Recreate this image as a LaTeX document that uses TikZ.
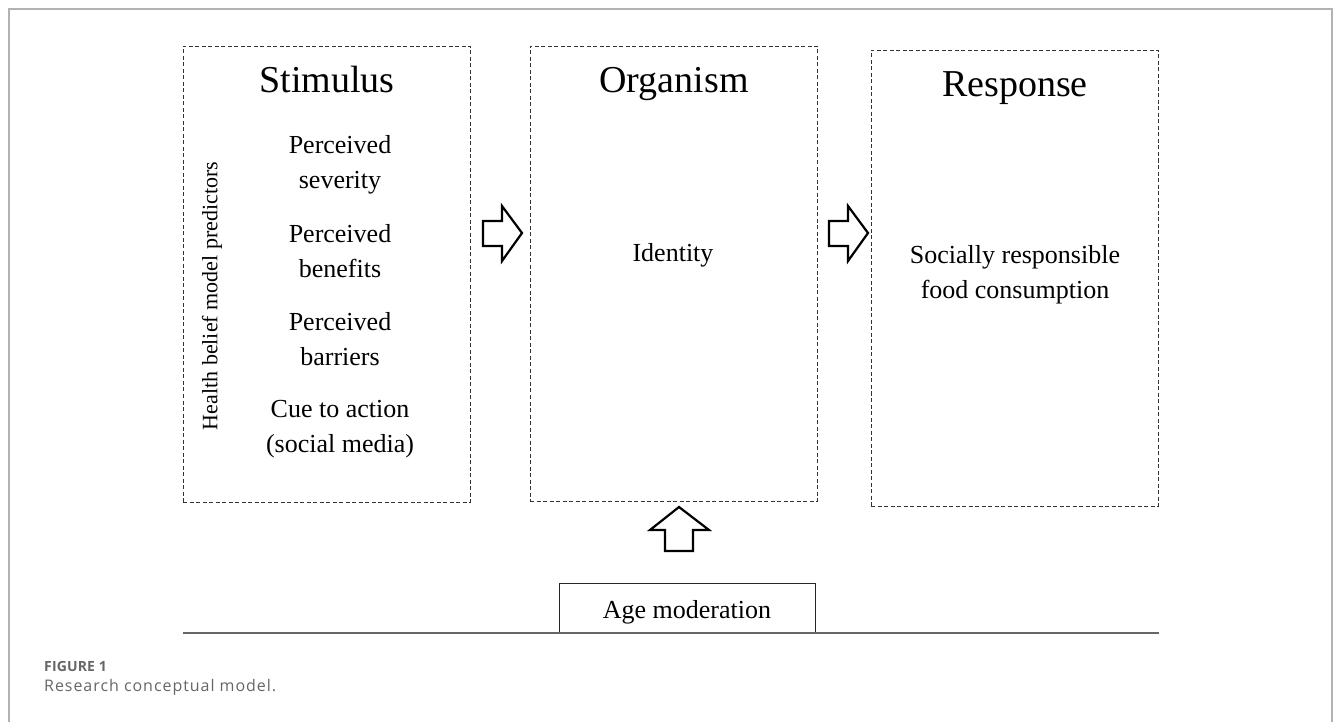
\documentclass[tikz,border=0pt]{standalone}
\usepackage{fontspec}
\setmainfont{Liberation Serif}
\newfontfamily\capfont{Open Sans}
\usepackage{tikz}
\usetikzlibrary{positioning,calc}

\begin{document}
\begin{tikzpicture}[x=1pt,y=-1pt,
  dashbox/.style={draw=black!80, dash pattern=on 4pt off 2.5pt, line width=0.9pt,
    minimum width=287pt, inner sep=0pt},
  title/.style={anchor=base, font=\fontsize{38}{42}\selectfont},
  item/.style={anchor=base, align=center, font=\fontsize{26}{35}\selectfont},
  bigarrow/.style={draw=black, line width=2.2pt, miter limit=10, fill=white},
  agebox/.style={draw=black!85, line width=1pt, minimum width=256pt, minimum height=50pt,
    text height=26pt, text depth=6pt, inner sep=0pt, font=\fontsize{26}{30}\selectfont}]
\useasboundingbox (0,0) rectangle (1333,722);
% frame
\draw[black!30, line width=1.5pt] (9,722) -- (9,9) -- (1332,9) -- (1332,722);

% the three S-O-R boxes
\node[dashbox, minimum height=456pt] (stim) at (326.5,274) {};
\node[dashbox, minimum height=455pt] (org) at (673.5,273.5) {};
\node[dashbox, minimum height=456pt] (resp) at (1014.5,278) {};

\node[title] (stimt) at (327,93) {Stimulus};
\node[title] (orgt) at (674,93) {Organism};
\node[title] (respt) at (1015,97) {Response};

% predictors (base = last line)
\node[rotate=90, font=\fontsize{22}{26}\selectfont] (hbm) at (212,296) {Health belief model predictors};
\foreach \t/\y [count=\i] in {Perceived\\severity/189, Perceived\\benefits/277,
    Perceived\\barriers/365, Cue to action\\(social media)/452} {
  \node[item] (pred\i) at (340,\y) {\t};
}

\node[item] (ident) at (673,261) {Identity};
\node[item] (src) at (1015,298) {Socially responsible\\food consumption};

% block arrows
\foreach \x in {483,829} {
  \draw[bigarrow] (\x,221) -- ++(19,0) -- ++(0,-15) -- ++(20,27) -- ++(-20,28)
    -- ++(0,-15) -- ++(-19,0) -- cycle;
}
\draw[bigarrow] (665,551) -- (665,530) -- (650,530) -- (679,507) -- (709,530)
  -- (693,530) -- (693,551) -- cycle;

\node[agebox] (age) at (687,608) {Age moderation};
\draw[black!60, line width=1.5pt] (183,633) -- (1159,633);

% caption
\node[anchor=base west, inner sep=0pt, text=black!60,
  font=\capfont\bfseries\fontsize{14}{16}\selectfont\addfontfeatures{LetterSpace=1}] (fig) at (44,671) {FIGURE 1};
\node[anchor=base west, inner sep=0pt, text=black!60,
  font=\capfont\fontsize{16}{19}\selectfont\addfontfeatures{LetterSpace=6}] (cap) at (44,691) {Research conceptual model.};
\end{tikzpicture}
\end{document}
